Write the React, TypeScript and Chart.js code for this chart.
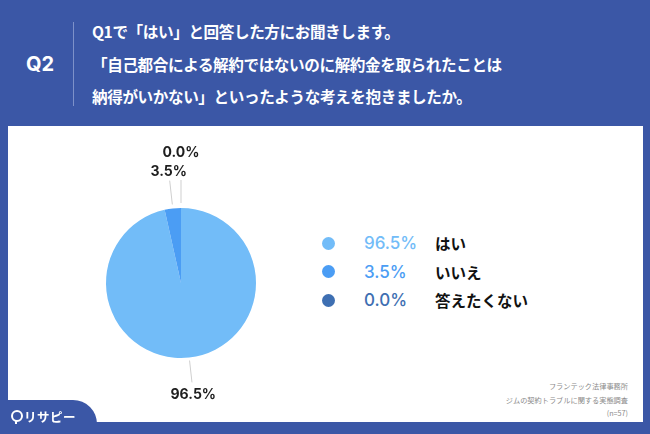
import React, { useEffect, useRef } from "react";
import { Chart, registerables } from "chart.js";

Chart.register(...registerables);

const categories = ["はい", "いいえ", "答えたくない"];
const values = [96.5, 3.5, 0.0];
const valueLabels = ["96.5%", "3.5%", "0.0%"];
const colors = ["#72bcf8", "#4b9df4", "#3e6fb2"];
const titleLines = [
  "Q1で「はい」と回答した方にお聞きします。",
  "「自己都合による解約ではないのに解約金を取られたことは",
  "納得がいかない」といったような考えを抱きましたか。",
];
const sourceLines = ["フランテック法律事務所", "ジムの契約トラブルに関する実態調査", "(n=57)"];

const BLUE = "#3b57a6";
const NUM_FONT = '"Inter", "Noto Sans CJK JP", sans-serif';
const JP_FONT = '"Noto Sans CJK JP", "Noto Sans", sans-serif';

const labelPlugin = {
  id: "pieLabels",
  afterDatasetsDraw(chart: any) {
    const meta = chart.getDatasetMeta(0);
    const ctx = chart.ctx;
    const lineSpans = [[3, 25], [4, 28], [5, 28]];
    const labelR = [37, 37, 55];
    ctx.save();
    meta.data.forEach((arc: any, i: number) => {
      const p = arc.getProps(["x", "y", "startAngle", "endAngle", "outerRadius"], true);
      const a = (p.startAngle + p.endAngle) / 2;
      const c = Math.cos(a), s = Math.sin(a);
      const r = p.outerRadius;
      ctx.strokeStyle = "#cfcfcf";
      ctx.lineWidth = 1;
      ctx.beginPath();
      ctx.moveTo(p.x + c * (r + lineSpans[i][0]), p.y + s * (r + lineSpans[i][0]));
      ctx.lineTo(p.x + c * (r + lineSpans[i][1]), p.y + s * (r + lineSpans[i][1]));
      ctx.stroke();
      ctx.fillStyle = "#1e1e1e";
      ctx.font = `700 14px ${NUM_FONT}`;
      ctx.textAlign = "center";
      ctx.textBaseline = "middle";
      ctx.fillText(valueLabels[i], p.x + c * (r + labelR[i]), p.y + s * (r + labelR[i]));
    });
    ctx.restore();
  },
};

export default function App() {
  const ref = useRef<HTMLCanvasElement>(null);
  useEffect(() => {
    document.body.style.margin = "0";
    const chart = new Chart(ref.current!, {
      type: "pie",
      data: {
        labels: categories,
        datasets: [
          {
            data: values,
            backgroundColor: colors,
            borderWidth: 0,
          },
        ],
      },
      options: {
        animation: false,
        responsive: false,
        maintainAspectRatio: false,
        layout: { padding: { left: 25, right: 25, top: 75, bottom: 75 } },
        plugins: { legend: { display: false }, tooltip: { enabled: false } },
      },
      plugins: [labelPlugin],
    });
    return () => chart.destroy();
  }, []);

  return (
    <div
      style={{
        position: "fixed",
        left: 0,
        top: 0,
        width: 650,
        height: 434,
        background: BLUE,
        overflow: "hidden",
        fontFamily: JP_FONT,
      }}
    >
      {/* header */}
      <div
        style={{
          position: "absolute",
          left: 18,
          top: 51,
          width: 44,
          height: 26,
          lineHeight: "26px",
          textAlign: "center",
          color: "#fff",
          fontFamily: NUM_FONT,
          fontWeight: 700,
          fontSize: 20,
        }}
      >
        Q2
      </div>
      <div style={{ position: "absolute", left: 73, top: 22, width: 1, height: 84, background: "#7d91c9" }} />
      {titleLines.map((t, i) => (
        <div
          key={i}
          style={{
            position: "absolute",
            left: 92,
            top: 15 + i * 32.5,
            height: 32,
            lineHeight: "32px",
            color: "#fff",
            fontWeight: 700,
            fontSize: 15.6,
            whiteSpace: "nowrap",
            letterSpacing: "-0.4px",
          }}
        >
          {t}
        </div>
      ))}
      {/* panel */}
      <div style={{ position: "absolute", left: 8, top: 126, width: 635, height: 296, background: "#fff" }} />
      {/* chart */}
      <canvas
        ref={ref}
        width={200}
        height={300}
        style={{ position: "absolute", left: 81, top: 133, width: 200, height: 300 }}
      />
      {/* legend */}
      {categories.map((c, i) => (
        <React.Fragment key={c}>
          <div
            style={{
              position: "absolute",
              left: 321.5,
              top: 243 + i * 28.5 - 6.5,
              width: 13,
              height: 13,
              borderRadius: "50%",
              background: colors[i],
            }}
          />
          <div
            style={{
              position: "absolute",
              left: 364,
              top: 243 + i * 28.5 - 12,
              height: 24,
              lineHeight: "24px",
              color: colors[i],
              fontFamily: NUM_FONT,
              fontWeight: 500,
              fontSize: 17,
              whiteSpace: "nowrap",
            }}
          >
            {valueLabels[i]}
          </div>
          <div
            style={{
              position: "absolute",
              left: 435,
              top: 243 + i * 28.5 - 12,
              height: 24,
              lineHeight: "24px",
              color: "#111",
              fontWeight: 700,
              fontSize: 15.5,
              whiteSpace: "nowrap",
            }}
          >
            {c}
          </div>
        </React.Fragment>
      ))}
      {/* source */}
      {sourceLines.map((t, i) => (
        <div
          key={t}
          style={{
            position: "absolute",
            right: 650 - 628,
            top: 386 + i * 13.5 - 7,
            height: 14,
            lineHeight: "14px",
            color: "#8a8a8a",
            fontSize: 7.2,
            whiteSpace: "nowrap",
            textAlign: "right",
          }}
        >
          {t}
        </div>
      ))}
      {/* logo tab */}
      <div
        style={{
          position: "absolute",
          left: 0,
          top: 400,
          width: 97,
          height: 34,
          background: BLUE,
          borderTopRightRadius: 24,
        }}
      />
      <div
        style={{
          position: "absolute",
          left: 11,
          top: 410,
          width: 8,
          height: 8,
          borderRadius: "50%",
          border: "2px solid #fff",
        }}
      />
      <div style={{ position: "absolute", left: 15, top: 420, width: 2, height: 4, background: "#fff" }} />
      <div
        style={{
          position: "absolute",
          left: 24,
          top: 408,
          height: 18,
          lineHeight: "18px",
          color: "#fff",
          fontWeight: 700,
          fontSize: 12.5,
          whiteSpace: "nowrap",
          letterSpacing: "0.5px",
        }}
      >
        リサピー
      </div>
    </div>
  );
}
